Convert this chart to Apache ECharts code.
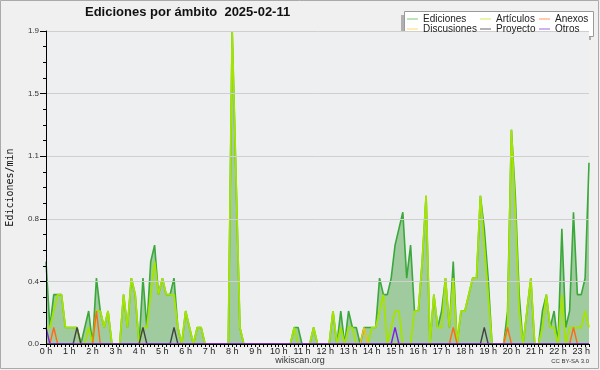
<!DOCTYPE html>
<html><head><meta charset="utf-8">
<script src="https://cdn.jsdelivr.net/npm/echarts@6/dist/echarts.min.js"></script>
<style>html,body{margin:0;padding:0;background:#f0f0f0}#c{width:600px;height:370px}</style>
</head><body><div id="c"></div>
<script>
// Tick labels of the time axis (one per hour)
const hourLabels = ['0 h','1 h','2 h','3 h','4 h','5 h','6 h','7 h','8 h','9 h','10 h','11 h',
  '12 h','13 h','14 h','15 h','16 h','17 h','18 h','19 h','20 h','21 h','22 h','23 h'];
// Series (edits per minute, 10-minute samples from 00:00 to 23:20)
const ediciones = [
  0.5,0.1,0.3,0.3,0.3,0.1,0.1,0.1,0.1,0,0.1,0.2,
  0,0.4,0.2,0.1,0.2,0,0,0,0.3,0.1,0.4,0.3,
  0,0.4,0.1,0.5,0.6,0.3,0.4,0.3,0.3,0.4,0.1,0,
  0.2,0.1,0,0.1,0.1,0,0,0,0,0,0,0,
  1.9,1.0,0.1,0,0,0,0,0,0,0,0,0,
  0,0,0,0,0.1,0.1,0,0,0,0.1,0,0,
  0,0,0.2,0,0.2,0,0.2,0.1,0.1,0,0.1,0.1,
  0.1,0.1,0.4,0.3,0.3,0.4,0.6,0.7,0.8,0.4,0.6,0.2,
  0.2,0.5,0.9,0,0.3,0.1,0.2,0.4,0.1,0.5,0,0.2,
  0.2,0.3,0.4,0.4,0.9,0.7,0.4,0,0,0,0,0.2,
  1.3,0.9,0.3,0,0.2,0.4,0,0,0.2,0.3,0.1,0.2,
  0,0.7,0.1,0.2,0.8,0.3,0.3,0.4,1.1];
const articulos = [
  0.1,0.1,0.2,0.3,0.3,0.1,0.1,0.1,0.1,0,0,0.1,
  0,0.2,0.2,0.1,0.2,0,0,0,0.3,0.1,0.4,0.3,
  0,0.1,0.1,0.3,0.5,0.3,0.4,0.3,0.3,0.3,0.1,0,
  0.2,0.1,0,0.1,0.1,0,0,0,0,0,0,0,
  1.9,1.0,0.1,0,0,0,0,0,0,0,0,0,
  0,0,0,0,0.1,0,0,0,0,0.1,0,0,
  0,0,0.2,0,0.1,0,0.1,0.1,0,0,0,0,
  0.1,0.1,0.2,0.3,0,0.1,0.2,0.2,0,0,0,0.2,
  0.2,0.5,0.9,0,0.3,0.1,0.1,0.4,0.1,0.4,0,0.2,
  0.2,0.3,0.4,0.4,0.9,0.6,0.3,0,0,0,0,0.1,
  1.3,0.8,0.2,0,0.2,0.4,0,0,0.1,0.3,0.1,0.1,
  0,0.3,0,0.1,0.1,0.1,0.1,0.2,0.1];
const anexos = [
  0,0,0.1,0,0,0,0,0,0,0,0,0,
  0,0.2,0,0,0,0,0,0,0,0,0,0,
  0,0,0,0,0,0,0,0,0,0,0,0,
  0,0,0,0,0,0,0,0,0,0,0,0,
  0,0,0,0,0,0,0,0,0,0,0,0,
  0,0,0,0,0,0,0,0,0,0,0,0,
  0,0,0,0,0,0,0,0,0,0,0,0,
  0,0,0,0,0,0,0,0,0,0,0,0,
  0,0,0,0,0,0,0,0,0,0.1,0,0,
  0,0,0,0,0,0,0,0,0,0,0,0.1,
  0,0,0,0,0,0,0,0,0,0,0,0,
  0,0,0,0,0.1,0,0,0,0];
const discusiones = [
  0,0,0,0,0,0,0,0,0,0,0,0,
  0,0,0,0,0,0,0,0,0,0,0,0,
  0,0,0,0,0,0,0,0,0,0,0,0,
  0,0,0,0,0,0,0,0,0,0,0,0,
  0,0,0,0,0,0,0,0,0,0,0,0,
  0,0,0,0,0,0,0,0,0,0,0,0,
  0,0,0,0,0,0,0,0,0,0,0.1,0,
  0,0,0,0,0,0,0,0,0,0,0,0,
  0,0,0,0,0,0,0,0,0,0,0,0,
  0,0,0,0,0,0,0,0,0,0,0,0,
  0,0,0,0,0,0,0,0,0,0,0,0,
  0,0,0,0,0,0,0,0,0];
const proyecto = [
  0,0,0,0,0,0,0,0,0.1,0,0,0,
  0,0,0,0,0,0,0,0,0,0,0,0,
  0,0.1,0,0,0,0,0,0,0,0.1,0,0,
  0,0,0,0,0,0,0,0,0,0,0,0,
  0,0,0,0,0,0,0,0,0,0,0,0,
  0,0,0,0,0,0,0,0,0,0,0,0,
  0,0,0,0,0,0,0,0,0,0,0,0,
  0,0,0,0,0,0,0,0,0,0,0,0,
  0,0,0,0,0,0,0,0,0,0,0,0,
  0,0,0,0,0,0.1,0,0,0,0,0,0,
  0,0,0,0,0,0,0,0,0,0,0,0,
  0,0,0,0,0,0,0,0,0];
const otros = [
  0.1,0,0,0,0,0,0,0,0,0,0,0,
  0,0,0,0,0,0,0,0,0,0,0,0,
  0,0,0,0,0,0,0,0,0,0,0,0,
  0,0,0,0,0,0,0,0,0,0,0,0,
  0,0,0,0,0,0,0,0,0,0,0,0,
  0,0,0,0,0,0,0,0,0,0,0,0,
  0,0,0,0,0,0,0,0,0,0,0,0,
  0,0,0,0,0,0,0.1,0,0,0,0,0,
  0,0,0,0,0,0,0,0,0,0,0,0,
  0,0,0,0,0,0,0,0,0,0,0,0,
  0,0,0,0,0,0,0,0,0,0,0,0,
  0,0,0,0,0,0,0,0,0];

const categories = ediciones.map((_, i) => {
  const h = Math.floor(i / 6), m = (i % 6) * 10;
  return String(h).padStart(2, '0') + ':' + String(m).padStart(2, '0');
});

const FONT = 'Liberation Sans';
const chart = echarts.init(document.getElementById('c'), null, {renderer: 'canvas'});

function lineSeries(name, data, color, legendColor, width, extra) {
  return Object.assign({
    name, type: 'line', data, symbol: 'none', showSymbol: false, animation: false,
    lineStyle: {color, width}, itemStyle: {color: legendColor}, emphasis: {disabled: true}
  }, extra || {});
}

const legendBase = {
  orient: 'vertical', top: 14, itemGap: 0, padding: 0, icon: 'rect',
  itemWidth: 11, itemHeight: 1, selectedMode: false, z: 10,
  textStyle: {fontFamily: FONT, fontSize: 10, color: '#222', lineHeight: 10}
};

chart.setOption({
  backgroundColor: '#f0f0f0',
  animation: false,
  title: {
    text: 'Ediciones por ámbito  2025-02-11', left: 85, top: 6, padding: 0,
    textStyle: {fontFamily: FONT, fontSize: 13, fontWeight: 'bold', color: '#111'}
  },
  legend: [
    Object.assign({}, legendBase, {left: 407, data: ['Ediciones', 'Discusiones']}),
    Object.assign({}, legendBase, {left: 480, data: ['Artículos', 'Proyecto']}),
    Object.assign({}, legendBase, {left: 539, data: ['Anexos', 'Otros']})
  ],
  graphic: [
    {type: 'rect', z: -10, silent: true, shape: {x: 0.5, y: 0.5, width: 598, height: 368}, style: {fill: 'none', stroke: '#aaaaaa', lineWidth: 1}},
    {type: 'rect', z: -10, silent: true, shape: {x: 401, y: 15, width: 190, height: 25}, style: {fill: '#b0b0b0'}},
    {type: 'rect', z: -9, silent: true, shape: {x: 404.5, y: 11.5, width: 189, height: 25}, style: {fill: '#ffffff', stroke: '#9a9a9a', lineWidth: 1}},
    {type: 'text', left: 'center', top: 356, style: {text: 'wikiscan.org', font: '9px "Liberation Sans"', fill: '#333'}},
    {type: 'text', right: 11, top: 358, style: {text: 'CC BY-SA 3.0', font: '6px "Liberation Sans"', fill: '#333'}}
  ],
  grid: {left: 46, top: 31, width: 543, height: 313, outerBoundsMode: 'none', containLabel: false,
    show: true, backgroundColor: '#eeeff1', borderWidth: 0},
  xAxis: {
    type: 'category', data: categories, boundaryGap: false, z: 5,
    axisLine: {lineStyle: {color: '#000', width: 1}},
    axisTick: {interval: 0, length: 3, lineStyle: {color: '#000'}},
    axisLabel: {interval: 5, margin: 3, fontFamily: FONT, fontSize: 9, color: '#222',
      formatter: (v, idx) => hourLabels[Math.round(idx / 6)]},
    splitLine: {show: false}
  },
  yAxis: {
    type: 'value', min: 0, max: 1.9, interval: 0.38, z: 5,
    name: 'Ediciones/min', nameLocation: 'middle', nameGap: 31, nameRotate: 90,
    nameTextStyle: {fontFamily: 'DejaVu Sans Mono', fontSize: 10, color: '#111'},
    axisLine: {show: true, lineStyle: {color: '#000', width: 1}},
    axisTick: {show: true, length: 6, lineStyle: {color: '#000'}},
    minorTick: {show: true, splitNumber: 4, length: 3, lineStyle: {color: '#000'}},
    axisLabel: {margin: 7, fontFamily: FONT, fontSize: 8, color: '#333',
      formatter: v => v.toFixed(1)},
    splitLine: {show: true, lineStyle: {color: '#cfcfcf', width: 1}}
  },
  series: [
    lineSeries('Ediciones', ediciones, '#3aa83a', '#77cc77', 1.6,
      {areaStyle: {color: '#9fcb9f', opacity: 1}, z: 2}),
    lineSeries('Artículos', articulos, '#a4e400', '#ccee55', 1.8, {z: 3}),
    lineSeries('Anexos', anexos, '#ff6a1a', '#ff9966', 1.4, {z: 4}),
    lineSeries('Discusiones', discusiones, '#f2c200', '#ffdd66', 1.4, {z: 4}),
    lineSeries('Proyecto', proyecto, '#444444', '#666666', 1.4, {z: 4}),
    lineSeries('Otros', otros, '#7a22e0', '#9966ee', 1.4, {z: 4})
  ]
});
</script></body></html>
